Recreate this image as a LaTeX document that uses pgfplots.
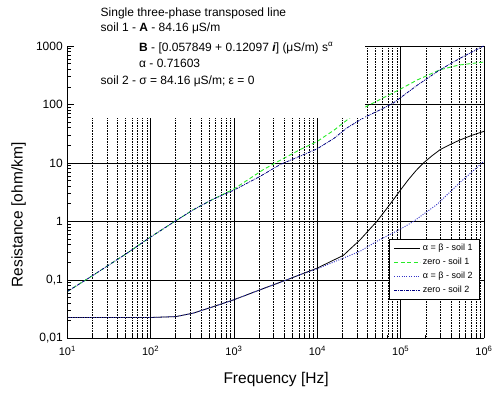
\documentclass[border=0pt]{standalone}
\usepackage{fontspec}
\setmainfont{Liberation Sans}
\usepackage{pgfplots}
\pgfplotsset{compat=1.18}
\definecolor{zgreen}{RGB}{40,235,40}
\definecolor{dblue}{RGB}{50,50,200}
\definecolor{navyb}{RGB}{0,0,130}
\pgfplotsset{
  /pgfplots/layers/boxlayers/.define layer set={
    axis background,axis grid,main,axis ticks,axis lines,
    axis tick labels,axis descriptions,axis foreground
  }{/pgfplots/layers/standard},
}
\begin{document}
\begin{tikzpicture}
\begin{axis}[
  set layers=boxlayers,
  at={(67.3pt,53.7pt)}, anchor=south west,
  scale only axis, width=416.7pt, height=292.3pt,
  xmode=log, ymode=log,
  xmin=10, xmax=1e6, ymin=0.01, ymax=1000,
  axis x line=bottom, axis y line=left,
  axis line style={-, line width=0.7pt},
  xtick={10,100,1000,10000,100000,1000000},
  xticklabels={10\textsuperscript{1},10\textsuperscript{2},10\textsuperscript{3},10\textsuperscript{4},10\textsuperscript{5},10\textsuperscript{6}},
  ytick={0.01,0.1,1,10,100,1000},
  yticklabels={{0,01},{0,1},1,10,100,1000},
  xticklabel style={font=\fontsize{11}{13}\selectfont, yshift=-4.5pt},
  yticklabel style={font=\fontsize{12}{14}\selectfont, xshift=-1pt},
  tick align=inside,
  major tick length=7pt, minor tick length=3.5pt,
  tick style={black, line width=0.6pt},
  xmajorgrids, xminorgrids, ymajorgrids,
  major grid style={black, solid, line width=0.6pt},
  minor grid style={black, line width=0.5pt, dash pattern=on 0.8pt off 0.8pt},
  xlabel={Frequency [Hz]},
  ylabel={Resistance [ohm/km]},
  label style={font=\fontsize{15.5}{18}\selectfont},
  xlabel style={at={(axis description cs:0.501,-0.141)}, anchor=center},
  ylabel style={at={(axis description cs:-0.117,0.422)}, anchor=center},
  legend style={at={(0.99,0.34)}, anchor=north east, draw=black, fill=white,
    line width=0.6pt, font=\fontsize{9}{10}\selectfont, legend cell align=left,
    inner xsep=5pt, inner ysep=3pt, row sep=2pt},
  legend image code/.code={\draw[#1] (0pt,0pt) -- (26pt,0pt);},
]
\addplot[black, line width=0.8pt] coordinates {
(10,0.0227) (31.6,0.0227) (100,0.0227) (200,0.0235) (326,0.027) (562,0.0347)
(1000,0.0457) (2056,0.0676) (4295,0.1) (10000,0.159) (20600,0.263) (25119,0.343)
(32700,0.486) (41100,0.697) (51800,1.0) (65200,1.53) (82000,2.36) (100000,3.47)
(124000,5.19) (153000,7.41) (188000,10.0) (237000,13.2) (298000,16.9) (386000,20.4)
(501000,24.3) (708000,29.5) (1000000,34.7)};
\addlegendentry{α = β - soil 1}
\addplot[zgreen, line width=0.9pt, dash pattern=on 4pt off 2.5pt] coordinates {
(10,0.0632) (20,0.1175) (31.6,0.18) (50.1,0.275) (100,0.541) (195,1.0) (326,1.585)
(562,2.40) (1000,3.59) (2254,7.69) (3573,11.07) (6209,16.9) (10000,23.4) (15850,36.3)
(23600,56.5) (35730,87.1) (63100,131.8) (100000,184) (158500,263) (297850,393.6)
(501000,473) (1000000,532)};
\addlegendentry{zero - soil 1}
\addplot[dblue, line width=0.9pt, dash pattern=on 1pt off 1.4pt] coordinates {
(10,0.0227) (31.6,0.0227) (100,0.0227) (200,0.0235) (326,0.027) (562,0.0347)
(1000,0.0457) (2056,0.0676) (4295,0.1) (6310,0.124) (10000,0.155) (20600,0.236)
(32700,0.309) (51800,0.457) (100000,0.741) (142600,1.0) (271600,1.94) (517600,4.66)
(1000000,10.7)};
\addlegendentry{α = β - soil 2}
\addplot[navyb, line width=0.8pt, dash pattern=on 3pt off 1pt on 0.8pt off 1pt] coordinates {
(10,0.0632) (20,0.1175) (31.6,0.18) (50.1,0.275) (100,0.541) (195,1.0) (326,1.585)
(562,2.40) (1000,3.43) (2056,5.89) (3573,9.35) (6310,13.2) (9863,17.3) (15850,26.3)
(22600,39.6) (35730,58.9) (56230,80.4) (82000,106.2) (158500,213.8) (297850,393.6)
(501000,602.6) (1000000,1012)};
\addlegendentry{zero - soil 2}
\fill[white] (axis cs:10,59.4) rectangle (axis cs:37000,5000);
\end{axis}
\begin{scope}[every node/.style={font=\fontsize{12}{14}\selectfont, inner sep=0pt}]
\node[anchor=base west] at (100.5pt,{392pt-17pt}) {Single three-phase transposed line};
\node[anchor=base west] at (100.5pt,{392pt-31.5pt}) {soil 1 - \textbf{A} - 84.16 μS/m};
\node[anchor=base west] at (139pt,{392pt-51pt}) {\textbf{B} - [0.057849 + 0.12097 \textbf{\textit{i}}] (μS/m) s\textsuperscript{α}};
\node[anchor=base west] at (139pt,{392pt-67.5pt}) {α - 0.71603};
\node[anchor=base west] at (100.5pt,{392pt-84.5pt}) {soil 2 - σ = 84.16 μS/m; ε = 0};
\end{scope}
\pgfresetboundingbox
\path[use as bounding box] (0,0) rectangle (492pt,392pt);
\end{tikzpicture}
\end{document}
